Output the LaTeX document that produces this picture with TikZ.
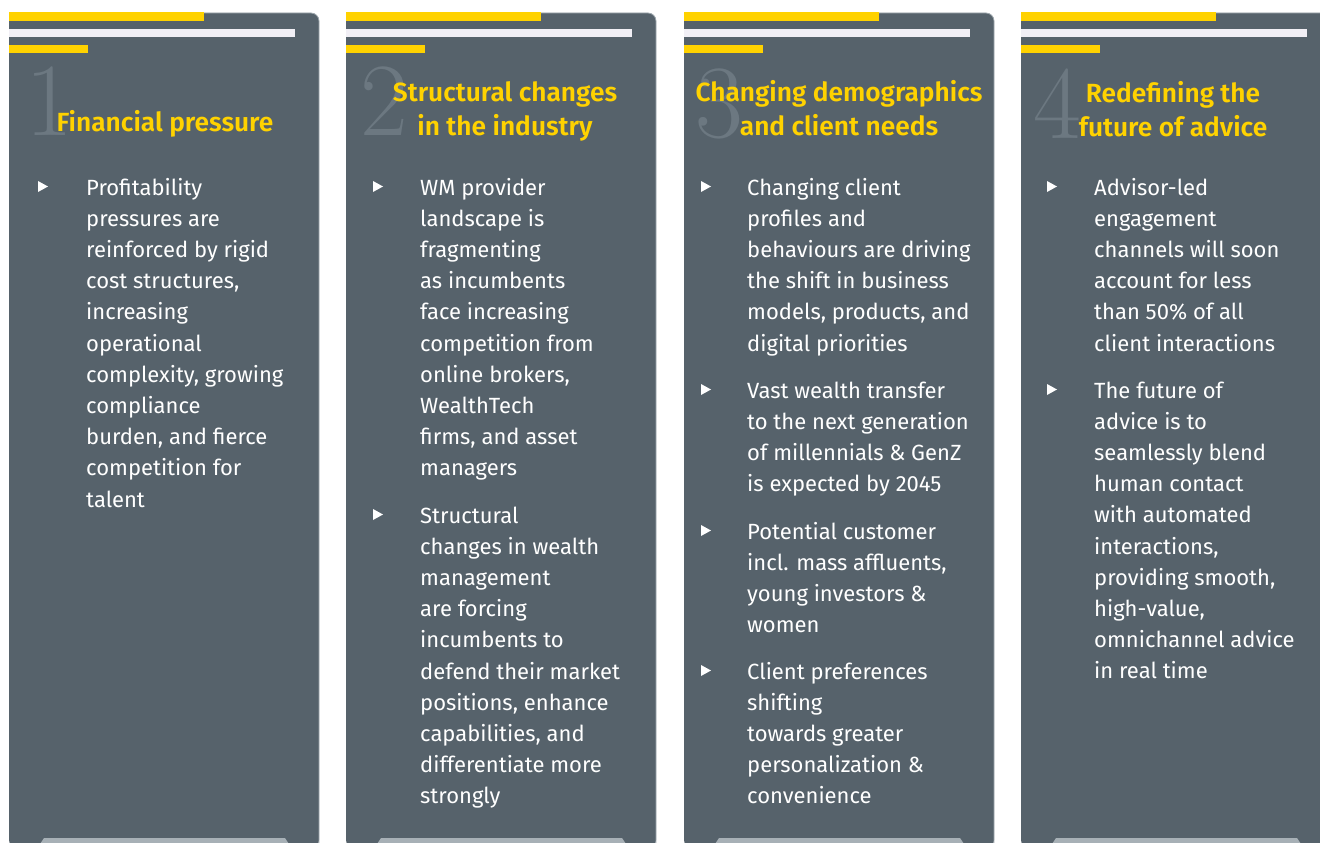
\documentclass[tikz,border=0pt]{standalone}
\usepackage{fontspec}
\newfontfamily\bodyfont{Fira Sans}
\newfontfamily\headfont{Fira Sans SemiBold}
\definecolor{panelgrey}{HTML}{56626B}
\definecolor{eyyellow}{HTML}{FFD200}
\definecolor{barwhite}{HTML}{F1EFF5}
\definecolor{digitgrey}{HTML}{6C7881}
\definecolor{footgrey}{HTML}{A7B0B6}
\definecolor{edgegrey}{HTML}{9EA7AD}
\newcommand{\tri}[2]{\fill[white] (#1-5,#2-5.5) -- (#1+5,#2) -- (#1-5,#2+5.5) -- cycle;}
\newcommand{\panelbox}[1]{%
  \fill[panelgrey,rounded corners=8] (#1,13) rectangle (#1+310,848);
  \draw[edgegrey,line width=0.8,rounded corners=8] (#1+150,13) -- (#1+310,13) -- (#1+310,848);
  \fill[eyyellow] (#1,12) rectangle (#1+195,21);
  \fill[barwhite] (#1,29) rectangle (#1+286,37);
  \fill[eyyellow] (#1,45) rectangle (#1+79,53);
  \fill[footgrey] (#1+31,844) -- (#1+35,838) -- (#1+276,838) -- (#1+280,844) -- cycle;}
\begin{document}
\begin{tikzpicture}[x=1pt,y=-1pt,
  digit/.style={anchor=base west,inner sep=0,text=digitgrey,font=\fontsize{104}{104}\selectfont},
  title/.style={anchor=base,inner sep=0,align=center,text=eyyellow,font=\headfont\fontsize{26.3}{34.5}\selectfont},
  body/.style={anchor=base west,inner sep=0,align=left,text=white,font=\bodyfont\fontsize{22}{31.2}\selectfont}]
  \useasboundingbox (0,0) rectangle (1320,843);

  % four columns
  \panelbox{9}
  \panelbox{346}
  \panelbox{684}
  \panelbox{1021}

  % headings (anchored on the last baseline)
  \node[digit] (d1) at (25,135) {1};
  \node[title] (t1) at (165,131) {Financial pressure};
  \node[digit] (d2) at (360,135) {2};
  \node[title] (t2) at (505,135.5) {Structural changes\\in the industry};
  \node[digit] (d3) at (695,137) {3};
  \node[title] (t3) at (839,135.5) {Changing demographics\\and client needs};
  \node[digit] (d4) at (1033,138) {4};
  \node[title] (t4) at (1173,136.5) {Redefining the\\future of advice};

  % column 1
  \tri{43}{186.5}
  \node[body] (c1a) at (86,507) {Profitability\\pressures are\\reinforced by rigid\\cost structures,\\increasing\\operational\\complexity, growing\\compliance\\burden, and fierce\\competition for\\talent};

  % column 2
  \tri{378}{186.5}
  \node[body] (c2a) at (420,475.8) {WM provider\\landscape is\\fragmenting\\as incumbents\\face increasing\\competition from\\online brokers,\\WealthTech\\firms, and asset\\managers};
  \tri{378}{514.5}
  \node[body] (c2b) at (420,803.8) {Structural\\changes in wealth\\management\\are forcing\\incumbents to\\defend their market\\positions, enhance\\capabilities, and\\differentiate more\\strongly};

  % column 3
  \tri{706}{186.5}
  \node[body] (c3a) at (747,351) {Changing client\\profiles and\\behaviours are driving\\the shift in business\\models, products, and\\digital priorities};
  \tri{706}{389.5}
  \node[body] (c3b) at (747,491.6) {Vast wealth transfer\\to the next generation\\of millennials \& GenZ\\is expected by 2045};
  \tri{706}{530.5}
  \node[body] (c3c) at (747,632.6) {Potential customer\\incl. mass affluents,\\young investors \&\\women};
  \tri{706}{670.5}
  \node[body] (c3d) at (747,803.8) {Client preferences\\shifting\\towards greater\\personalization \&\\convenience};

  % column 4
  \tri{1052}{186.5}
  \node[body] (c4a) at (1094,351) {Advisor-led\\engagement\\channels will soon\\account for less\\than 50\% of all\\client interactions};
  \tri{1052}{389.5}
  \node[body] (c4b) at (1094,678.8) {The future of\\advice is to\\seamlessly blend\\human contact\\with automated\\interactions,\\providing smooth,\\high-value,\\omnichannel advice\\in real time};
\end{tikzpicture}
\end{document}
